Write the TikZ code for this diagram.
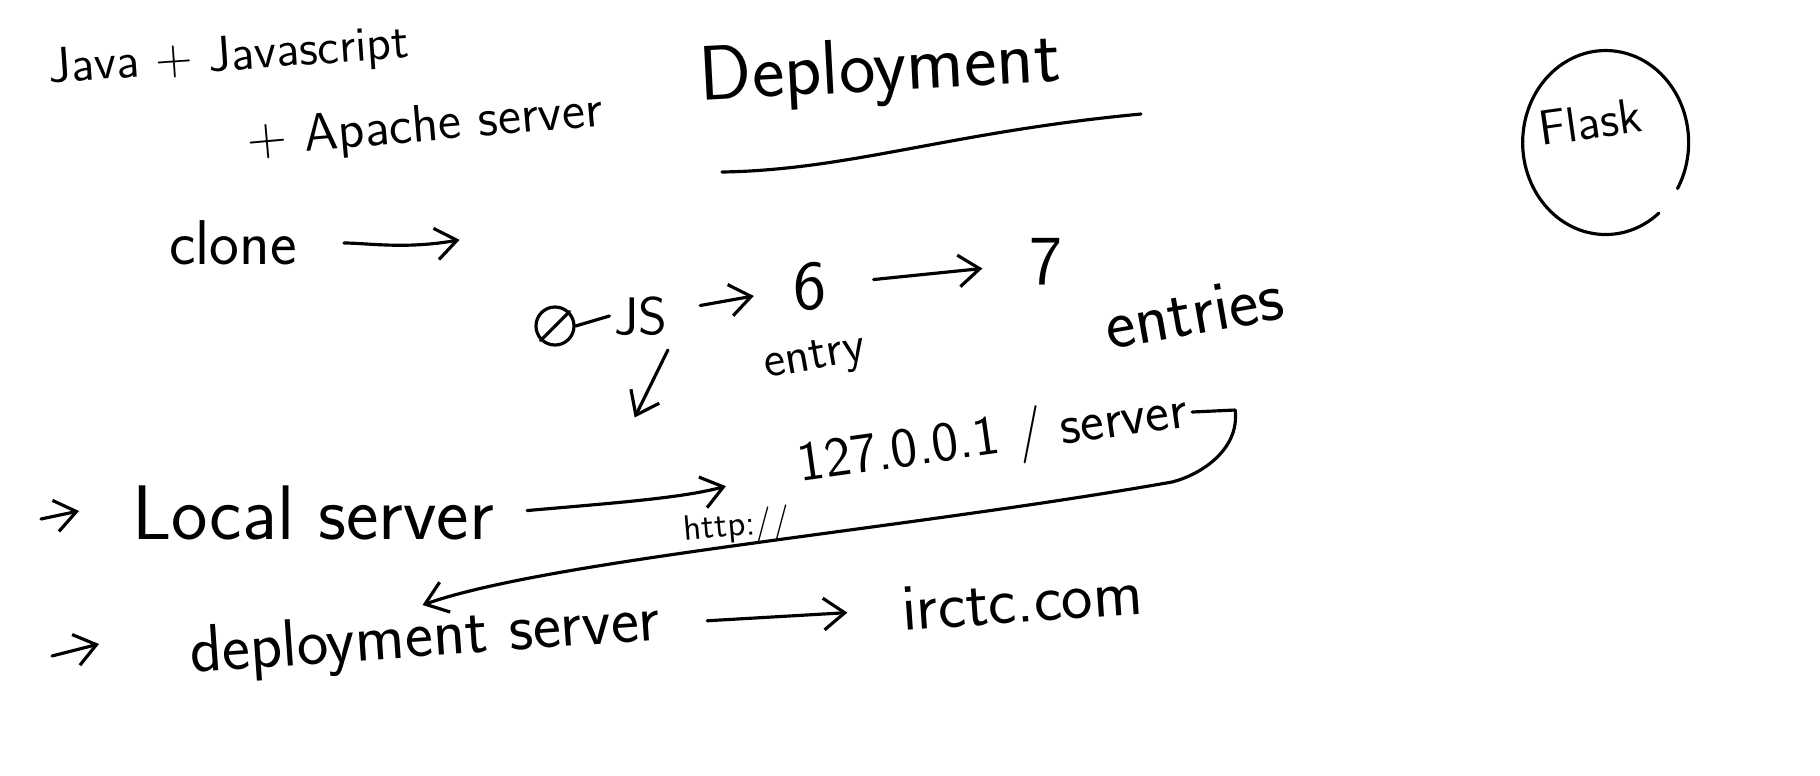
\documentclass[tikz,border=0pt]{standalone}
\usepackage{fontspec}
\usepackage{tikz}
\usetikzlibrary{arrows,positioning,calc,arrows.meta}

\tikzset{
  hand/.style={font=\sffamily\fontsize{#1}{#1}\selectfont, inner sep=1pt},
  ink/.style={line width=0.9pt, line cap=round, line join=round},
  arr/.style={->, shorten >=3pt, shorten <=3pt},
}

\begin{document}
\begin{tikzpicture}[x=0.01cm, y=-0.01cm, ink, >={Straight Barb[length=6pt,width=9pt]}]
    \useasboundingbox (0,0) rectangle (1820,775);

    % Title
    \node[hand=14, rotate=4] (java) at (229,58) {Java + Javascript};
    \node[hand=15, rotate=5] (apache) at (425,128) {+ Apache server};
    \node[hand=22, rotate=3] (deploy) at (880,72) {Deployment};
    \draw (722,172) .. controls (850,170) and (950,132) .. (1141,114);

    % Flask
    \node[hand=14, rotate=8] (flask) at (1590,122) {Flask};
    \draw (1659,213) arc[start angle=50, end angle=390, x radius=83, y radius=92];

    % clone
    \node[hand=18] (clone) at (233,243) {clone};
    \coordinate (cloneend) at (470,238);
    \draw[arr, shorten <=12pt] (clone.east) to[out=0,in=190] (cloneend);

    % JS -> 6 -> 7
    \node[draw, circle, minimum size=0.38cm, inner sep=0pt] (scrib) at (555,326) {};
    \draw (scrib.south west) -- (scrib.north east);
    \node[hand=15] (js) at (641,316) {JS};
    \draw (scrib.east) -- (js.west);
    \node[hand=20] (six) at (810,286) {6};
    \node[hand=14, rotate=10] (entry) at (815,360) {entry};
    \node[hand=20] (seven) at (1046,262) {7};
    \node[hand=20, rotate=10] (entries) at (1194,312) {entries};
    \draw[arr, shorten <=8pt, shorten >=10pt] (js) -- (six);
    \draw[arr, shorten <=12pt, shorten >=12pt] (six) -- (seven);
    \coordinate (jsdown) at (630,427);
    \draw[arr] (js.south east) -- (jsdown);

    % Local server
    \coordinate (localin) at (41,519);
    \node[hand=22] (local) at (313,513) {Local server};
    \draw[->] (localin) -- ++(38,-8);
    \node[hand=16, rotate=8] (localhost) at (993,440) {127.0.0.1 / server};
    \node[hand=10, rotate=5] (http) at (737,527) {http://};
    \draw[arr, shorten <=8pt, shorten >=20pt] (local.east) to[out=5,in=195] (localhost.west);

    % Deployment server
    \coordinate (depin) at (52,656);
    \node[hand=19, rotate=4] (depserver) at (425,640) {deployment server};
    \draw[->] (depin) -- ++(47,-12);
    \node[hand=19, rotate=4] (irctc) at (1022,601) {irctc.com};
    \draw[arr, shorten <=12pt, shorten >=14pt] (depserver.east) -- (irctc.west);
    \draw[->] (localhost.east) -- ++(43,-2) .. controls (1240,450) and (1200,475) .. (1172,482)
        .. controls (900,530) and (550,560) .. (depserver.north);
\end{tikzpicture}
\end{document}
